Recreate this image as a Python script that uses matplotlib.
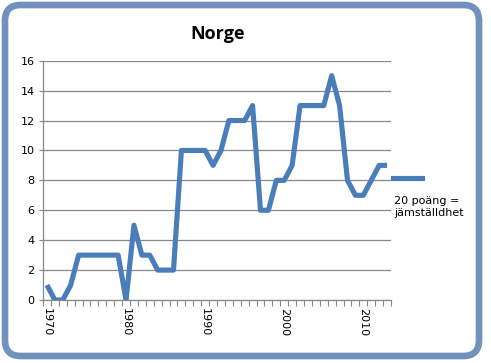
import matplotlib.pyplot as plt
from matplotlib.patches import FancyBboxPatch
from matplotlib.lines import Line2D

years = list(range(1970, 2014))
points = [1, 0, 0, 1, 3, 3, 3, 3, 3, 3,
          0, 5, 3, 3, 2, 2, 2, 10, 10, 10,
          10, 9, 10, 12, 12, 12, 13, 6, 6, 8,
          8, 9, 13, 13, 13, 13, 15, 13, 8, 7,
          7, 8, 9, 9]
label_years = [1970, 1980, 1990, 2000, 2010]
y_ticks = [0, 2, 4, 6, 8, 10, 12, 14, 16]

blue = '#4a7ebb'
frame = '#7391bd'
W, H = 491, 363

fig = plt.figure(figsize=(W / 100, H / 100), dpi=100)
fig.patch.set_facecolor('white')

# rounded frame round the whole chart
box = FancyBboxPatch((5 / W, 7 / H), 474 / W, 351 / H,
                     boxstyle='round,pad=0,rounding_size=0.032',
                     mutation_aspect=W / H,
                     transform=fig.transFigure, fill=False,
                     edgecolor=frame, linewidth=4.8)
fig.add_artist(box)

ax = fig.add_axes([43 / W, 1 - 300 / H, 348 / W, 239.3 / H])
idx = list(range(len(years)))
ax.plot(idx, points, color=blue, linewidth=3.7, solid_joinstyle='round',
        solid_capstyle='butt', zorder=3)

ax.set_xlim(-0.5, len(years) - 0.5)
ax.set_ylim(0, 16)
ax.set_yticks(y_ticks)
ax.set_yticklabels([str(v) for v in y_ticks], fontsize=8)
ax.yaxis.grid(True, color='#888888', linewidth=0.9)
ax.set_axisbelow(True)

ax.set_xticks([i - 0.5 for i in range(len(years) + 1)], minor=True)
ax.set_xticks([years.index(y) for y in label_years])
ax.set_xticklabels([str(y) for y in label_years], rotation=270, fontsize=8)
ax.tick_params(axis='x', which='major', length=0, pad=6)
ax.tick_params(axis='x', which='minor', length=4, color='#888888', width=0.8)
ax.tick_params(axis='y', length=3, color='#888888', width=0.8, pad=3)

for s in ['top', 'right']:
    ax.spines[s].set_visible(False)
for s in ['left', 'bottom']:
    ax.spines[s].set_color('#888888')
    ax.spines[s].set_linewidth(0.9)

fig.text(218 / W, 1 - 34 / H, 'Norge', ha='center', va='center',
         fontsize=13, fontweight='bold', family='Open Sans')

# legend
fig.add_artist(Line2D([393 / W, 422 / W], [1 - 178 / H, 1 - 178 / H],
                      color=blue, linewidth=3.7, transform=fig.transFigure))
fig.text(394 / W, 1 - 207 / H, '20 poäng =\njämställdhet', ha='left',
         va='center', fontsize=8, linespacing=1.35)

fig.savefig('out.png', dpi=100)
